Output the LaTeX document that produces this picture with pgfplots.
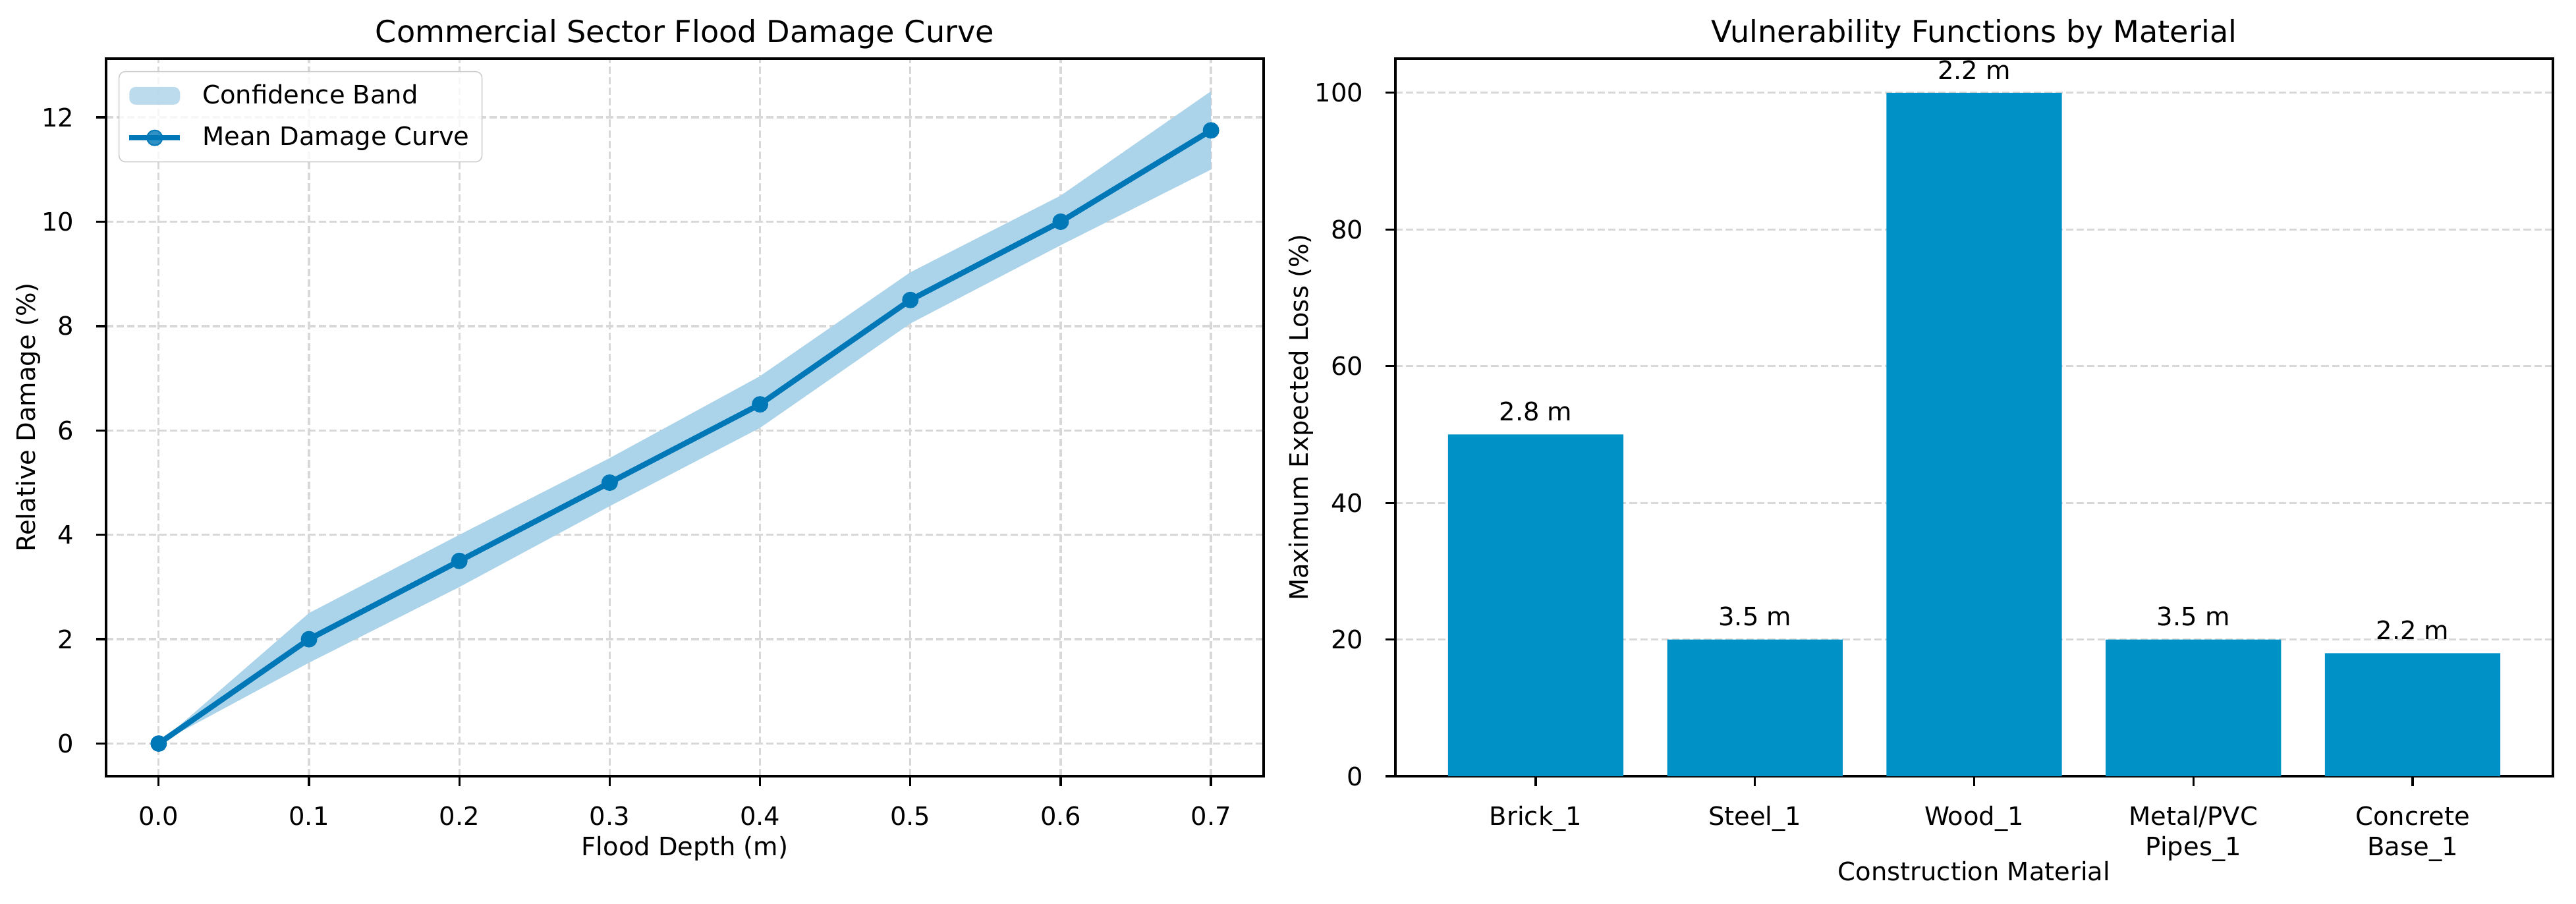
\documentclass[border=0pt]{standalone}
\usepackage{fontspec}
\setmainfont{DejaVu Sans}
\usepackage{pgfplots}
\pgfplotsset{compat=1.18}
\definecolor{linec}{RGB}{0,119,182}
\definecolor{bandc}{RGB}{171,211,233}
\definecolor{barc}{RGB}{0,146,199}
\definecolor{gridc}{RGB}{216,216,216}
\pgfplotsset{
  mpl/.style={
    scale only axis,
    width=456.82pt, height=283.14pt,
    anchor=south west,
    axis line style={black, line width=0.85pt},
    every tick/.style={black, line width=0.85pt},
    major tick length=3.9pt,
    tick align=outside,
    xtick pos=left, ytick pos=left,
    grid style={gridc, line width=0.85pt, dash pattern=on 2.9pt off 1.3pt},
    tick label style={font=\fontsize{10}{12.2}\selectfont},
    yticklabel style={inner sep=0pt, anchor=east, xshift=-8.6pt},
    xticklabel style={inner sep=0pt, anchor=base, yshift=-15.34pt},
    label style={font=\fontsize{10}{12}\selectfont},
    title style={font=\fontsize{12}{14}\selectfont, at={(axis description cs:0.5,1)}, anchor=base, yshift=0.24pt},
    /pgf/number format/assume math mode=true,
  },
  lineleg/.style={legend image code/.code={\draw[mark repeat=2, mark phase=2, ##1] plot coordinates {(0pt,0pt) (10pt,0pt) (20pt,0pt)};}},
  bandleg/.style={legend image code/.code={\fill[bandc] (0pt,-3.5pt) rectangle (20pt,3.5pt);}},
}
\begin{document}
\begin{tikzpicture}
\useasboundingbox (0,0) rectangle (1016.6pt,356.46pt);
\begin{axis}[mpl, at={(41.86pt,50.18pt)},
  xmin=-0.035, xmax=0.735, ymin=-0.625, ymax=13.125,
  xtick={0,0.1,0.2,0.3,0.4,0.5,0.6,0.7}, ytick={0,2,4,6,8,10,12},
  xticklabel style={/pgf/number format/.cd, fixed, fixed zerofill, precision=1},
  xmajorgrids, ymajorgrids,
  title={Commercial Sector Flood Damage Curve},
  xlabel={Flood Depth (m)}, ylabel={Relative Damage (\%)},
  xlabel style={at={(axis description cs:0.5,0)}, anchor=base, yshift=-31.4pt},
  ylabel style={at={(axis description cs:0,0.5)}, anchor=center, yshift=30.7pt},
  legend style={at={(axis description cs:0,1)}, anchor=north west, xshift=4.9pt, yshift=-4.9pt,
    draw=black!20, rounded corners=2.5pt, fill=white, fill opacity=0.8, text opacity=1,
    font=\fontsize{10}{12}\selectfont, row sep=3.6pt, inner xsep=3pt, inner ysep=3pt,
    /tikz/every odd column/.append style={column sep=5.8pt}},
  legend cell align=left,
]
\addplot[draw=none, fill=bandc, bandleg]
  coordinates {(0,0) (0.1,2.5) (0.2,4.0) (0.3,5.47) (0.4,7.04) (0.5,9.03) (0.6,10.5) (0.7,12.5)
               (0.7,11.0) (0.6,9.55) (0.5,8.05) (0.4,6.05) (0.3,4.55) (0.2,3.0) (0.1,1.55) (0,0)};
\addplot[linec, line width=2.17pt, mark=*, mark size=3.0pt,
  mark options={solid, fill=linec, draw=linec, line width=0.5pt}, lineleg]
  coordinates {(0,0) (0.1,2) (0.2,3.5) (0.3,5) (0.4,6.5) (0.5,8.5) (0.6,10) (0.7,11.75)};
\legend{Confidence Band, Mean Damage Curve}
\end{axis}
\begin{axis}[mpl, at={(550.68pt,50.18pt)},
  ybar, bar width=0.8, bar shift=0pt,
  xmin=-0.64, xmax=4.64, ymin=0, ymax=105,
  xtick={0,1,2,3,4},
  xticklabels={{Brick\_1\\\mbox{}}, {Steel\_1\\\mbox{}}, {Wood\_1\\\mbox{}}, {Metal/PVC\\Pipes\_1}, {Concrete\\Base\_1}},
  xticklabel style={align=center, yshift=-12.2pt},
  ytick={0,20,40,60,80,100}, ymajorgrids,
  title={Vulnerability Functions by Material},
  xlabel={Construction Material}, ylabel={Maximum Expected Loss (\%)},
  xlabel style={at={(axis description cs:0.5,0)}, anchor=base, yshift=-41.3pt},
  ylabel style={at={(axis description cs:0,0.5)}, anchor=center, yshift=37.2pt},
  nodes near coords, point meta=explicit symbolic,
  every node near coord/.append style={anchor=base, yshift=5.4pt, font=\fontsize{10}{12}\selectfont, black},
]
\addplot[fill=barc, draw=none]
  coordinates {(0,50) [2.8 m] (1,20) [3.5 m] (2,100) [2.2 m] (3,20) [3.5 m] (4,18) [2.2 m]};
\end{axis}
\end{tikzpicture}
\end{document}
